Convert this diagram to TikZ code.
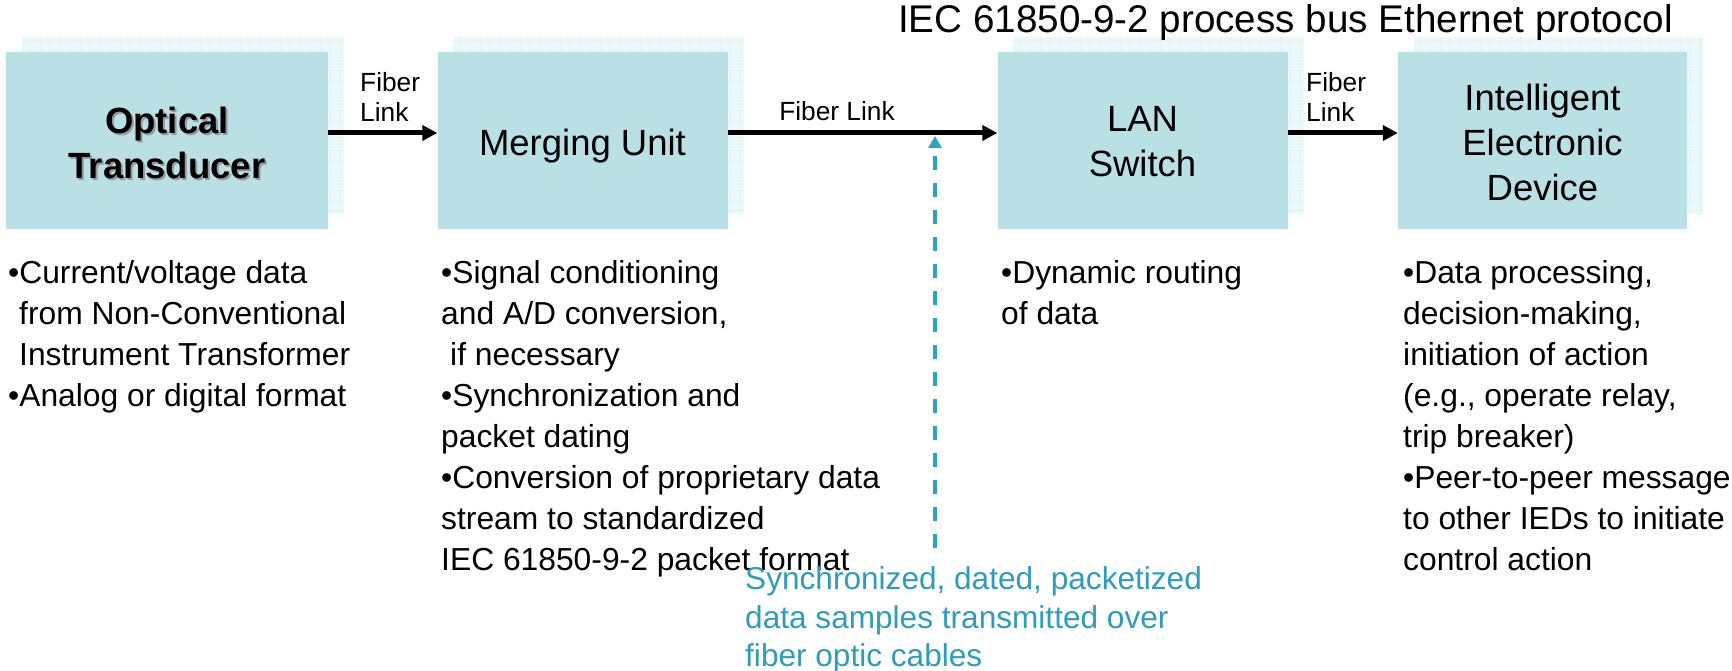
\documentclass[tikz,border=0pt]{standalone}
\usepackage{fontspec}
\setmainfont{Liberation Sans}
\usetikzlibrary{arrows.meta,backgrounds}
\definecolor{boxfill}{HTML}{B9E0E5}
\definecolor{shadowfill}{HTML}{EDF8FA}
\definecolor{shadowgrid}{HTML}{E2F3F6}
\definecolor{annottext}{HTML}{2E9CBA}
\definecolor{annotline}{HTML}{2AA3C5}
\newcommand{\shd}[1]{\leavevmode\rlap{\kern2pt\raisebox{-2pt}{\color{black!40}#1}}#1}
\tikzset{
 blk/.style={fill=boxfill,draw=none,minimum height=177pt,inner sep=0pt},
 boxtext/.style={inner sep=0pt,align=center,font=\fontsize{36.5}{45}\selectfont},
 linklabel/.style={inner sep=0pt,align=left,font=\fontsize{26.3}{30}\selectfont},
 bodytext/.style={inner sep=0pt,align=left,anchor=north west,font=\fontsize{31.8}{41}\selectfont},
 annot/.style={inner sep=0pt,align=left,anchor=north west,text=annottext,font=\fontsize{31.6}{38.7}\selectfont},
 flow/.style={line width=5pt,-{Triangle[length=15pt,width=15pt]}},
 dasharrow/.style={draw=annotline,line width=3.5pt,dash pattern=on 14pt off 13pt,-{Triangle[length=12pt,width=13pt]}},
}
\begin{document}
\begin{tikzpicture}[x=1pt,y=-1pt]
\useasboundingbox (0,0) rectangle (1732,671);
% boxes
\node[blk,minimum width=322pt] (ot) at (167,140.5) {};
\node[blk,minimum width=290pt] (mu) at (582.5,140.5) {};
\node[blk,minimum width=290pt] (ls) at (1142.5,140.5) {};
\node[blk,minimum width=289pt] (ied) at (1542.5,140.5) {};
% shadows
\begin{scope}[on background layer]
\foreach \n in {ot,mu,ls,ied}{
  \fill[shadowfill] ([xshift=16pt,yshift=15pt]\n.south west) rectangle ([xshift=16pt,yshift=15pt]\n.north east);
  \begin{scope}
   \clip ([xshift=16pt,yshift=15pt]\n.south west) rectangle ([xshift=16pt,yshift=15pt]\n.north east);
   \draw[shadowgrid,line width=0.5pt,step=10pt] ([xshift=16pt,yshift=15pt]\n.south west) grid ([xshift=16pt,yshift=15pt]\n.north east);
  \end{scope}
}
\end{scope}
% box texts
\node[boxtext,anchor=north,font=\fontsize{36.5}{45}\selectfont\bfseries] (ot-t) at (167,101.6) {\strut\shd{Optical}\\\shd{Transducer}};
\node[boxtext,anchor=base] (mu-t) at (582.5,155.6) {Merging Unit};
\node[boxtext,anchor=north] (ls-t) at (1142.5,99.6) {\strut LAN\\Switch};
\node[boxtext,anchor=north] (ied-t) at (1542.5,78.6) {\strut Intelligent\\Electronic\\Device};
% title
\node[inner sep=0pt,anchor=base west,font=\fontsize{38.6}{42}\selectfont] (title) at (898,32.5) {IEC 61850-9-2 process bus Ethernet protocol};
% link labels
\node[linklabel,anchor=north west] (l1) at (360,69.9) {\strut Fiber\\Link};
\node[linklabel,anchor=base] (l2) at (837,121) {Fiber Link};
\node[linklabel,anchor=north west] (l3) at (1306,69.9) {\strut Fiber\\Link};
% connectors
\draw[flow] ([yshift=7.5pt]ot.east) -- ([yshift=7.5pt]mu.west);
\draw[flow] ([yshift=7.5pt]mu.east) -- ([yshift=7.5pt]ls.west);
\draw[flow] ([yshift=7.5pt]ls.east) -- ([yshift=7.5pt]ied.west);
\coordinate (dtop) at (935,136);
\coordinate (dbot) at (935,548);
\draw[dasharrow] (dbot) -- (dtop);
% descriptions
\node[bodytext] (d1) at (8,254.3) {\strut•Current/voltage data\\\hspace*{11pt}from Non-Conventional\\\hspace*{11pt}Instrument Transformer\\•Analog or digital format};
\node[bodytext] (d2) at (441,254.3) {\strut•Signal conditioning\\and A/D conversion,\\\hspace*{9pt}if necessary\\•Synchronization and\\packet dating\\•Conversion of proprietary data\\stream to standardized\\IEC 61850-9-2 packet format};
\node[bodytext] (d3) at (1001,254.3) {\strut•Dynamic routing\\of data};
\node[bodytext] (d4) at (1403,254.3) {\strut•Data processing,\\decision-making,\\initiation of action\\(e.g., operate relay,\\trip breaker)\\•Peer-to-peer message\\to other IEDs to initiate\\control action};
\node[annot] (note) at (745,562.2) {\strut Synchronized, dated, packetized\\data samples transmitted over\\fiber optic cables};
\end{tikzpicture}
\end{document}
